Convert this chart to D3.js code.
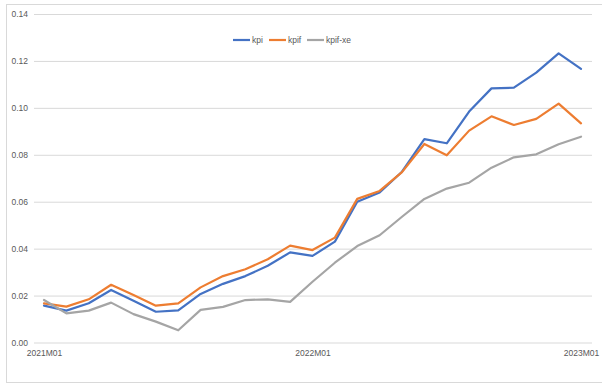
<!DOCTYPE html>
<html>
<head>
<meta charset="utf-8">
<script src="https://cdn.jsdelivr.net/npm/d3@7"></script>
<style>
  body { margin: 0; background: #fff; }
  svg { font-family: "Liberation Sans", Arial, sans-serif; }
</style>
</head>
<body>
<svg class="chart" width="602" height="385"></svg>
<script>
const months = [
  "2021M01", "2021M02", "2021M03", "2021M04", "2021M05", "2021M06", "2021M07",
  "2021M08", "2021M09", "2021M10", "2021M11", "2021M12",
  "2022M01", "2022M02", "2022M03", "2022M04", "2022M05", "2022M06", "2022M07",
  "2022M08", "2022M09", "2022M10", "2022M11", "2022M12",
  "2023M01"
];

const kpi = [
  0.0157, 0.0136, 0.0167, 0.0224, 0.0178, 0.0131, 0.0137, 0.0207, 0.0250, 0.0283,
  0.0327, 0.0384, 0.0369, 0.0430, 0.0600, 0.0639, 0.0728, 0.0867, 0.0849, 0.0984,
  0.1083, 0.1086, 0.1150, 0.1232, 0.1166
];
const kpif = [
  0.0167, 0.0153, 0.0184, 0.0246, 0.0202, 0.0157, 0.0167, 0.0235, 0.0283, 0.0312,
  0.0355, 0.0413, 0.0394, 0.0447, 0.0612, 0.0646, 0.0726, 0.0846, 0.0798, 0.0903,
  0.0964, 0.0927, 0.0953, 0.1018, 0.0934
];
const kpifXe = [
  0.0181, 0.0124, 0.0136, 0.0170, 0.0121, 0.0089, 0.0052, 0.0139, 0.0152, 0.0181,
  0.0184, 0.0173, 0.0259, 0.0340, 0.0411, 0.0457, 0.0536, 0.0612, 0.0656, 0.0681,
  0.0745, 0.0789, 0.0802, 0.0845, 0.0877
];

const yTicks = [0, 0.02, 0.04, 0.06, 0.08, 0.10, 0.12, 0.14];
const xTicks = ["2021M01", "2022M01", "2023M01"];

const series = [
  { name: "kpi", values: kpi, color: "#4472C4" },
  { name: "kpif", values: kpif, color: "#ED7D31" },
  { name: "kpif-xe", values: kpifXe, color: "#A5A5A5" }
];

const svg = d3.select(".chart");

// chart frame
svg.append("rect")
  .attr("x", 6.5)
  .attr("y", 4.5)
  .attr("width", 600)
  .attr("height", 378)
  .attr("fill", "#fff")
  .attr("stroke", "#d9d9d9");

const x = d3.scalePoint().domain(months).range([44, 581]);
const y = d3.scaleLinear().domain([0, 0.14]).range([342.5, 14]);

// y axis with gridlines
const yAxis = svg.append("g")
  .attr("transform", "translate(34,0)")
  .call(d3.axisLeft(y).tickValues(yTicks).tickSize(-558).tickPadding(6)
    .tickFormat(d3.format(".2f")));
yAxis.select(".domain").remove();
yAxis.selectAll(".tick line").attr("stroke", "#d9d9d9").attr("stroke-width", 1);
yAxis.selectAll(".tick text")
  .attr("fill", "#595959")
  .style("font-size", "8.5px");

// x axis labels
const xAxis = svg.append("g")
  .attr("transform", "translate(0,342.5)")
  .call(d3.axisBottom(x).tickValues(xTicks).tickSize(0).tickPadding(7));
xAxis.select(".domain").remove();
xAxis.selectAll(".tick text")
  .attr("fill", "#595959")
  .style("font-size", "8.5px");

// lines
const line = d3.line()
  .x((d, i) => x(months[i]))
  .y(d => y(d));

svg.selectAll(".series")
  .data(series)
  .join("path")
  .attr("class", "series")
  .attr("d", d => line(d.values))
  .attr("fill", "none")
  .attr("stroke", d => d.color)
  .attr("stroke-width", 2.2)
  .attr("stroke-linejoin", "round")
  .attr("stroke-linecap", "round");

// legend
const legendX = [233, 269, 307];
const legend = svg.append("g");
series.forEach((s, i) => {
  const g = legend.append("g").attr("transform", `translate(${legendX[i]},40)`);
  g.append("line")
    .attr("x1", 0).attr("x2", 17)
    .attr("stroke", s.color)
    .attr("stroke-width", 2.2);
  g.append("text")
    .attr("x", 19)
    .attr("y", 3)
    .attr("fill", "#595959")
    .style("font-size", "8.5px")
    .text(s.name);
});
</script>
</body>
</html>
